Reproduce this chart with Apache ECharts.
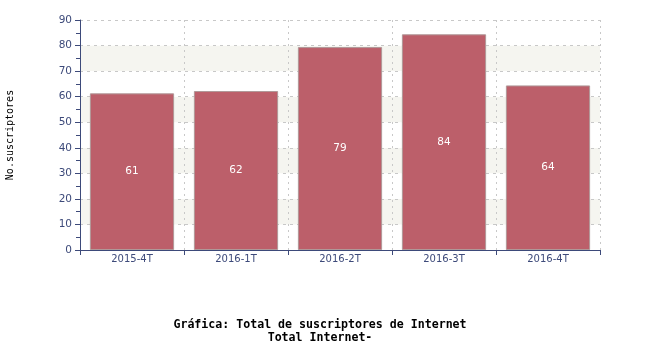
<!DOCTYPE html>
<html><head><meta charset="utf-8">
<script src="https://cdn.jsdelivr.net/npm/echarts@6/dist/echarts.min.js"></script>
<style>html,body{margin:0;padding:0;background:#fff}#c{width:650px;height:350px}</style>
</head><body><div id="c"></div>
<script>
var categories = ['2015-4T','2016-1T','2016-2T','2016-3T','2016-4T'];
var values = [61.3, 62.2, 79.4, 84.4, 64.4];
var yTicks = [0,10,20,30,40,50,60,70,80,90];

var axisColor = '#3d4a7a';
var chart = echarts.init(document.getElementById('c'), null, {renderer:'canvas'});
chart.setOption({
  animation:false,
  backgroundColor:'#fff',
  title:{
    text:'Gráfica: Total de suscriptores de Internet\nTotal Internet-',
    left:315, top:313, textAlign:'center',
    textStyle:{fontFamily:'DejaVu Sans Mono', fontWeight:'bold', fontSize:11.6, color:'#000', lineHeight:13, align:'center'}
  },
  grid:{left:80, right:50, top:20, bottom:100, containLabel:false, outerBoundsMode:'none'},
  xAxis:{
    type:'category', data:categories,
    axisLine:{lineStyle:{color:axisColor, width:1}},
    axisTick:{show:true, length:5, lineStyle:{color:axisColor}},
    axisLabel:{color:axisColor, fontFamily:'DejaVu Sans', fontSize:10, margin:4},
    splitLine:{show:true, lineStyle:{color:'#c8c8c8', type:[2,4]}}
  },
  yAxis:{
    type:'value', min:yTicks[0], max:yTicks[yTicks.length-1], interval:10,
    name:'No.suscriptores', nameLocation:'middle', nameGap:65,
    nameTextStyle:{fontFamily:'DejaVu Sans Mono', fontSize:10, color:'#000'},
    axisLine:{show:true, lineStyle:{color:axisColor, width:1}},
    axisTick:{show:true, length:5, lineStyle:{color:axisColor}},
    minorTick:{show:true, splitNumber:2, length:4, lineStyle:{color:axisColor}},
    axisLabel:{color:axisColor, fontFamily:'DejaVu Sans', fontSize:10.5, margin:8},
    splitLine:{show:true, lineStyle:{color:'#c8c8c8', type:[3,4]}},
    splitArea:{show:true, areaStyle:{color:['#ffffff','#f5f5f0']}}
  },
  series:[{
    type:'bar', data:values, barCategoryGap:'19%',
    itemStyle:{color:'#bc5f6a', borderColor:'#b09898', borderWidth:1},
    label:{show:true, position:'inside', color:'#fff', fontFamily:'DejaVu Sans', fontSize:10.5,
      formatter:function(p){return Math.round(p.value);}}
  }]
});
</script></body></html>
